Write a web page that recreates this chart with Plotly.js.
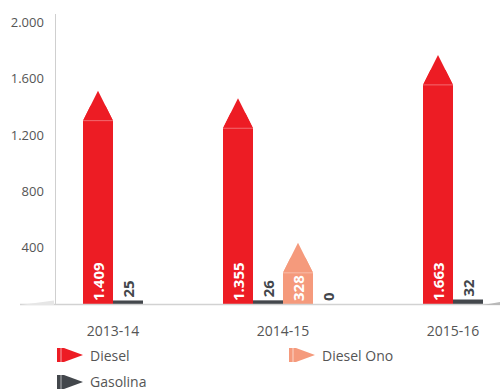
<!DOCTYPE html>
<html><head><meta charset="utf-8">
<script src="https://cdn.plot.ly/plotly-3.0.1.min.js"></script>
<style>html,body{margin:0;padding:0;background:#fff}#chart{width:500px;height:390px}</style>
</head><body><div id="chart"></div>
<script>
// ---- data ----
const categories = ['2013-14', '2014-15', '2015-16'];
const diesel = [1409, 1355, 1663];
const gasolina = [25, 26, 32];
const dieselOno = [null, 328, null];
const gasolinaOno = [null, 0, null];
const yTicks = [400, 800, 1200, 1600, 2000];

// ---- style / layout constants ----
const W = 500, H = 390;
const M = {l: 56, r: 0, t: 14, b: 86};
const PW = W - M.l - M.r, PH = H - M.t - M.b;
const CAT_PX = 170, BAR_PX = 30, FIRST_CENTER_PX = 113;
const BW = BAR_PX / CAT_PX;
const xRange = [(M.l - FIRST_CENTER_PX) / CAT_PX, (W - M.r - FIRST_CENTER_PX) / CAT_PX];
const yRange = [0, 2060];
const FONT = 'Open Sans, Noto Sans, sans-serif';

const series = [
  {name: 'Diesel', values: diesel, color: '#ed1c24', textColor: '#ffffff', arrow: true, inside: true, legend: true},
  {name: 'Gasolina', values: gasolina, color: '#43474c', textColor: '#43474c', arrow: false, inside: false, legend: true},
  {name: 'Diesel Ono', values: dieselOno, color: '#f59a7c', textColor: '#ffffff', arrow: true, inside: true, legend: true},
  {name: 'Gasolina Ono', values: gasolinaOno, color: '#43474c', textColor: '#43474c', arrow: false, inside: false, legend: false}
];

// offsets so each group's present bars are centred on the category
const offsets = series.map(() => categories.map(() => null));
categories.forEach((c, j) => {
  const present = series.map((s, i) => i).filter(i => series[i].values[j] !== null);
  present.forEach((i, p) => { offsets[i][j] = (p - present.length / 2) * BW; });
});

const traces = [];
const shapes = [];
series.forEach((s, i) => {
  const xs = [], ys = [], offs = [];
  categories.forEach((c, j) => {
    if (s.values[j] === null) return;
    xs.push(j); ys.push(s.values[j]); offs.push(offsets[i][j]);
  });
  const tf = {family: FONT, size: 15, color: s.textColor, weight: 'bold'};
  traces.push({
    type: 'bar', name: s.name, x: xs, y: ys, offset: offs, width: BW,
    marker: {color: s.color, line: {width: 0}},
    texttemplate: '%{y:,}', textposition: s.inside ? 'inside' : 'outside',
    insidetextanchor: 'start', textangle: -90, constraintext: 'none',
    textfont: tf, outsidetextfont: tf, insidetextfont: tf,
    cliponaxis: false, showlegend: false, hoverinfo: 'skip'
  });
  if (s.arrow) {
    xs.forEach((x, k) => {
      const xc = x + offs[k] + BW / 2;
      const common = {xref: 'x', yref: 'y', xsizemode: 'pixel', ysizemode: 'pixel',
                      xanchor: xc, yanchor: ys[k], layer: 'above', line: {width: 0}};
      shapes.push(Object.assign({}, common, {
        type: 'path', fillcolor: '#ffffff',
        path: 'M-15,-15 L-7,1 L-16.5,1 L-16.5,-15 Z M15,-15 L7,1 L16.5,1 L16.5,-15 Z'
      }));
      shapes.push(Object.assign({}, common, {
        type: 'path', fillcolor: s.color, path: 'M-15,-15 L0,15 L15,-15 Z'
      }));
      shapes.push(Object.assign({}, common, {
        type: 'path', path: 'M-15,-15 L15,-15', line: {width: 1, color: 'rgba(255,255,255,0.35)'}
      }));
    });
  }
});

// pixel -> paper helpers for decorations
const px = v => (v - M.l) / PW;
const py = v => (H - M.b - v) / PH;

// ground line + wedges
shapes.push({type: 'line', xref: 'paper', yref: 'paper', x0: px(20), x1: 1, y0: py(304.5), y1: py(304.5),
             line: {color: '#d2d2d2', width: 1.5}, layer: 'above'});
shapes.push({type: 'path', xref: 'paper', yref: 'paper', layer: 'above', line: {width: 0}, fillcolor: '#e6e6e6',
             path: `M${px(20)},${py(305)} L${px(54)},${py(305)} L${px(54)},${py(300.5)} Z`});
shapes.push({type: 'path', xref: 'paper', yref: 'paper', layer: 'above', line: {width: 0}, fillcolor: '#b9b9b9',
             path: `M${px(483)},${py(305)} L${px(500)},${py(305)} L${px(500)},${py(302)} Z`});

// legend (arrow icons + text)
const legendPos = [
  {i: 0, x: 57, y: 355},
  {i: 2, x: 289, y: 355},
  {i: 1, x: 57, y: 382}
];
const annotations = [];
legendPos.forEach(p => {
  const s = series[p.i];
  const x0 = p.x, yc = p.y;
  shapes.push({type: 'path', xref: 'paper', yref: 'paper', layer: 'above', line: {width: 0}, fillcolor: s.color,
    path: `M${px(x0)},${py(yc - 7)} L${px(x0 + 7)},${py(yc - 7)} L${px(x0 + 26)},${py(yc)} L${px(x0 + 7)},${py(yc + 7)} L${px(x0)},${py(yc + 7)} Z`});
  shapes.push({type: 'line', xref: 'paper', yref: 'paper', layer: 'above',
    x0: px(x0 + 4), x1: px(x0 + 4), y0: py(yc - 7), y1: py(yc + 7), line: {color: 'rgba(255,255,255,0.6)', width: 1}});
  annotations.push({xref: 'paper', yref: 'paper', x: px(x0 + 31), y: py(yc), xanchor: 'left', yanchor: 'middle',
    showarrow: false, text: s.name, font: {family: FONT, size: 14, color: '#555555'}});
});

const layout = {
  width: W, height: H, margin: M, paper_bgcolor: '#ffffff', plot_bgcolor: '#ffffff',
  separators: ',.', barmode: 'overlay', showlegend: false,
  font: {family: FONT, color: '#555555'},
  xaxis: {type: 'linear', range: xRange, tickvals: categories.map((c, j) => j), ticktext: categories,
          showgrid: false, zeroline: false, showline: false, ticks: '', ticklabelstandoff: 17,
          tickfont: {family: FONT, size: 14, color: '#555555'}, fixedrange: true},
  yaxis: {range: yRange, tickvals: yTicks, tickformat: ',', showgrid: false, zeroline: false,
          showline: true, linecolor: '#cfcfcf', linewidth: 1.5, ticks: '', ticklabelstandoff: 8,
          tickfont: {family: FONT, size: 13, color: '#555555'}, fixedrange: true},
  shapes: shapes, annotations: annotations
};

Plotly.newPlot('chart', traces, layout, {displayModeBar: false, staticPlot: true});
</script>
</body></html>
